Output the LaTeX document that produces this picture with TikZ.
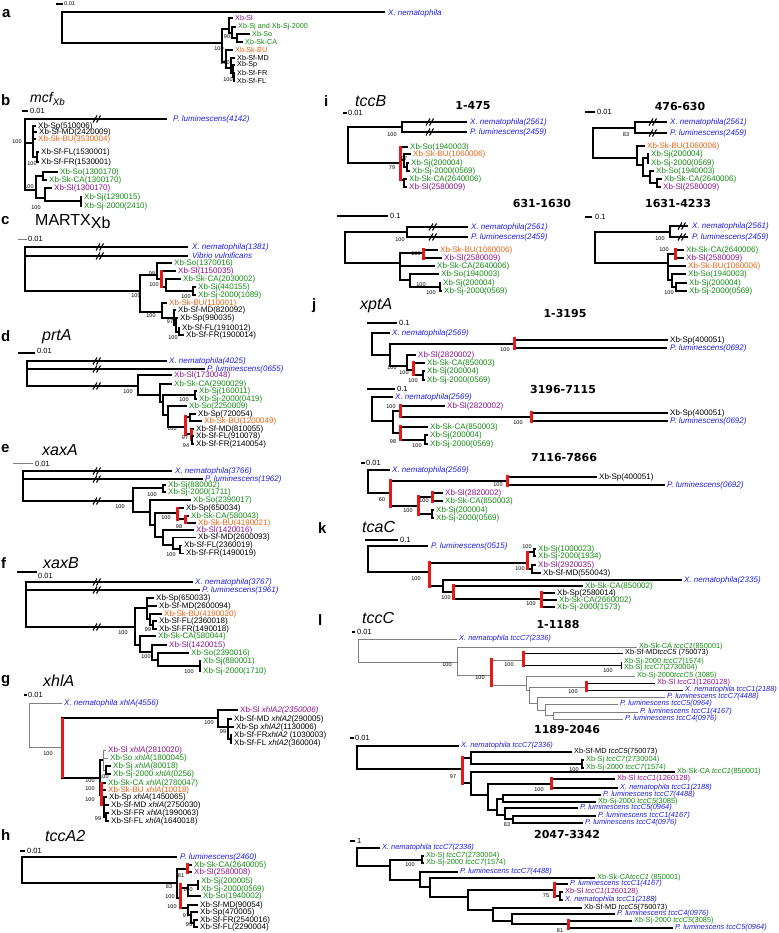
\documentclass[tikz,border=0pt]{standalone}
\usepackage{fontspec}
\setmainfont{Liberation Sans}
\newfontfamily\tfont{DejaVu Sans}
\definecolor{cg}{RGB}{20,140,20}
\definecolor{cp}{RGB}{140,20,140}
\definecolor{co}{RGB}{230,100,20}
\definecolor{cb}{RGB}{30,30,230}
\definecolor{cr}{RGB}{230,25,25}
\tikzset{
 br/.style={line width=1.6pt,draw=black},
 thin/.style={line width=0.8pt},
 gr/.style={line width=0.9pt,draw=gray},
 redbar/.style={line width=3pt,draw=cr},
 lb/.style={anchor=west,inner sep=0pt,font=\fontsize{8}{9}\selectfont},
 lbs/.style={anchor=west,inner sep=0pt,font=\fontsize{7.4}{8}\selectfont},
 lba/.style={anchor=west,inner sep=0pt,font=\fontsize{7.2}{8}\selectfont},
 bs/.style={inner sep=0pt,font=\fontsize{5.5}{6}\selectfont},
 plet/.style={anchor=west,inner sep=0pt,font=\fontsize{15}{15}\selectfont\bfseries},
 gtit/.style={anchor=west,inner sep=0pt,font=\fontsize{16}{16}\selectfont\itshape},
 rtit/.style={inner sep=0pt,font=\tfont\fontsize{11}{11}\selectfont\bfseries},
 sct/.style={anchor=west,inner sep=0pt,font=\fontsize{7.5}{8}\selectfont}
}
\newcommand\Lb[4]{\node[lb,text=#3] at (#1,#2) {#4};}
\newcommand\Lc[4]{\node[lbs,text=#3] at (#1,#2) {#4};}
\newcommand\La[4]{\node[lba,text=#3] at (#1,#2) {#4};}
\newcommand\Bk[6][]{\draw[br,#1] (#4,#3) -- (#2,#3) -- (#2,#5) -- (#6,#5);}
\newcommand\Bkk[8][]{\draw[br,#1] (#4,#3) -- (#2,#3) -- (#2,#7) -- (#8,#7) (#2,#5) -- (#6,#5);}
\newcommand\Rb[3]{\draw[redbar] (#1,#2) -- (#1,#3);}
\newcommand\Bs[3]{\node[bs] at (#1,#2) {#3};}
\newcommand\Brk[2]{\draw[line width=1.1pt] (#1-4,#2+3.5) -- (#1,#2-3.5) (#1-0.5,#2+3.5) -- (#1+3.5,#2-3.5);}
\begin{document}
\begin{tikzpicture}[x=1pt,y=-1pt]
\fill[white] (0,0) rectangle (778,933);
\useasboundingbox (0,0) rectangle (778,933);
% ===== a =====
\node[plet] at (2,14) {a};
\draw[br] (56,4) -- (63,4); \node[sct,font=\fontsize{5.5}{6}\selectfont] at (64,4) {0.01};
\Bk{62}{12}{385}{43}{222}
\Lb{388}{13}{cb}{\itshape X. nematophila}
\Bk{222}{29}{229}{62}{226}
\Bk{229}{18}{233}{33}{232}
\Bk{232}{27}{236}{38}{237}
\Bk{237}{34}{250}{42}{243}
\Bk{226}{50}{233}{68}{231}
\Bk{231}{58}{235}{73}{233}
\Bk{233}{65}{235}{77}{234}
\Bk{234}{73}{235}{81}{235}
\Bs{227}{37}{90}\Bs{219}{49}{100}\Bs{225}{63}{100}\Bs{228}{80}{100}
\La{235}{18}{cp}{Xb-Sl}
\La{238}{27}{cg}{Xb-Sj and Xb-Sj-2000}
\La{252}{34}{cg}{Xb-So}
\La{245}{42}{cg}{Xb-Sk-CA}
\La{235}{50}{co}{Xb-Sk-BU}
\La{237}{58}{black}{Xb-Sf-MD}
\La{237}{65}{black}{Xb-Sp}
\La{237}{73}{black}{Xb-Sf-FR}
\La{237}{81}{black}{Xb-Sf-FL}
% ===== b =====
\node[plet] at (1,100) {b};
\node[gtit,font=\fontsize{14}{14}\selectfont\itshape] at (30,99) {mcf\textsubscript{Xb}};
\draw[br] (22,111) -- (28,111); \node[sct] at (30,111) {0.01};
\Bkk{25}{119}{167}{143}{33}{190}{36}
\Brk{97}{119}
\Lb{173}{119}{cb}{\itshape P. luminescens(4142)}
\Bs{17}{142}{100}\Bs{29}{187}{100}
\draw[br] (36,126) -- (33,126) -- (33,157) -- (37,157) (33,132) -- (37,132) (33,139) -- (36,139);
\Bk{37}{152}{39}{162}{39}
\Bs{32}{164}{100}
\Lb{38}{126}{black}{Xb-Sp(510006)}
\Lb{39}{132.5}{black}{Xb-Sf-MD(2420009)}
\Lb{38}{139}{co}{Xb-Sk-BU(3530004)}
\Lb{41}{152}{black}{Xb-Sf-FL(1530001)}
\Lb{41}{162}{black}{Xb-Sf-FR(1530001)}
\Bk{36}{176}{43}{198}{45}
\Bk{43}{172}{58}{180}{47}
\Bk{45}{188}{52}{201}{81}
\Bk{81}{197}{82}{206}{82}
\Bs{36}{208}{100}
\Lb{60}{172}{cg}{Xb-So(1300170)}
\Lb{49}{180}{cg}{Xb-Sk-CA(1300170)}
\Lb{54}{188}{cp}{Xb-Sl(1300170)}
\Lb{84}{197}{cg}{Xb-Sj(1290015)}
\Lb{84}{206}{cg}{Xb-Sj-2000(2410)}
% ===== c =====
\node[plet] at (1,221) {c};
\node[gtit,font=\fontsize{16}{16}\selectfont] at (35,222) {MARTX\raisebox{-3pt}{Xb}};
\draw[gr] (18,239) -- (27,239); \node[sct] at (28,239) {0.01};
\Bkk{25}{247}{188}{256}{188}{291}{140}
\Brk{100}{247}\Brk{100}{256}
\Lb{192}{247}{cb}{\itshape X. nematophila(1381)}
\Lb{192}{256}{cb}{\itshape Vibrio vulnificans}
\Bs{136}{296}{100}
\Bk{140}{275}{157}{312}{162}
\Bk{157}{263}{172}{279}{161}
\Bs{152}{274}{99}
\Bk{161}{271}{176}{287}{166}\Rb{161}{270}{288}
\Bs{154}{285}{100}
\Bk{166}{279}{181}{291}{193}
\Bk{193}{287}{196}{295}{196}
\Bs{186}{297}{100}
\Bk{162}{303}{167}{318}{174}
\Bs{151}{316}{100}
\Bk{174}{310}{176}{325}{176}
\Bk{176}{318}{178}{332}{179}
\Bs{170}{322}{97}
\Bk{179}{328}{180}{335}{184}
\Bs{173}{338}{100}
\Lb{174}{263}{cg}{Xb-So(1370016)}
\Lb{178}{271}{cp}{Xb-Sl(1150035)}
\Lb{183}{279}{cg}{Xb-Sk-CA(2030002)}
\Lb{198}{287}{cg}{Xb-Sj(440155)}
\Lb{198}{295}{cg}{Xb-Sj-2000(1089)}
\Lb{169}{303}{co}{Xb-Sk-BU(110001)}
\Lb{178}{310}{black}{Xb-Sf-MD(820092)}
\Lb{180}{318}{black}{Xb-Sp(990035)}
\Lb{182}{328}{black}{Xb-Sf-FL(1910012)}
\Lb{186}{335}{black}{Xb-Sf-FR(1900014)}
% ===== d =====
\node[plet] at (1,336) {d};
\node[gtit] at (42,337) {prtA};
\draw[br] (18,353) -- (35,353); \node[sct] at (37,351) {0.01};
\Bkk{27}{361}{167}{369}{205}{386}{138}
\Brk{97}{361}\Brk{97}{369}\Brk{97}{386}
\Lb{169}{361}{cb}{\itshape X. nematophila(4025)}
\Lb{207}{369}{cb}{\itshape P. luminescens(0655)}
\Bs{128}{392}{100}
\Bk{138}{375}{172}{395}{160}
\Bk{160}{384}{172}{402}{163}
\Bk{163}{395}{195}{415}{168}
\Bk{195}{391}{197}{399}{197}\Bs{184}{400}{100}
\Bk{168}{406}{187}{427}{185}
\Bk{185}{417}{190}{434}{191}\Rb{185}{415}{436}\Bs{172}{429}{100}
\Bk{190}{414}{196}{421}{202}
\Bk{191}{429}{194}{440}{192}\Rb{191}{429}{441}\Bs{185}{438}{97}
\Bk{192}{436}{194}{444}{194}\Bs{186}{446}{94}
\Lb{174}{375}{cp}{Xb-Sl(1730048)}
\Lb{174}{384}{cg}{Xb-Sk-CA(2900029)}
\Lb{199}{391}{cg}{Xb-Sj(160011)}
\Lb{199}{399}{cg}{Xb-Sj-2000(0419)}
\Lb{189}{406}{cg}{Xb-So(2250009)}
\Lb{198}{414}{black}{Xb-Sp(720054)}
\Lb{204}{421}{co}{Xb-Sk-BU(1200049)}
\Lb{196}{429}{black}{Xb-Sf-MD(810055)}
\Lb{196}{436}{black}{Xb-Sf-FL(910078)}
\Lb{196}{444}{black}{Xb-Sf-FR(2140054)}
% ===== e =====
\node[plet] at (1,449) {e};
\node[gtit] at (42,450) {xaxA};
\draw[gr] (13,463) -- (33,463); \node[sct] at (35,464) {0.01};
\Bkk{23}{471}{172}{479}{203}{501}{133}
\Brk{97}{471}\Brk{97}{479}\Brk{97}{501}
\Lb{175}{471}{cb}{\itshape X. nematophila(3766)}
\Lb{205}{479}{cb}{\itshape P. luminescens(1962)}
\Bs{120}{507}{100}
\Bk{133}{488}{163}{512}{150}
\Bk{163}{485}{166}{492}{166}\Bs{152}{495}{100}
\Bk{150}{500}{191}{525}{155}
\Bk{155}{513}{177}{537}{163}
\Bk{177}{508}{184}{519}{185}\Rb{177}{507}{521}\Bs{166}{518}{100}
\Bk{185}{516}{189}{523}{196}\Rb{185}{515}{524}\Bs{179}{527}{98}
\Bk{163}{530}{194}{545}{173}
\Bk{173}{537.5}{196}{549}{180}
\Bk{180}{545.5}{182}{553.5}{184}\Bs{171}{555}{100}
\Lb{168}{485}{cg}{Xb-Sj(880002)}
\Lb{168}{492}{cg}{Xb-Sj-2000(1711)}
\Lb{193}{500}{cg}{Xb-So(2390017)}
\Lb{186}{508}{black}{Xb-Sp(650034)}
\Lb{191}{516}{cg}{Xb-Sk-CA(580043)}
\Lb{198}{523}{co}{Xb-Sk-BU(4190021)}
\Lb{196}{530}{cp}{Xb-Sl(1420016)}
\Lb{198}{537.5}{black}{Xb-Sf-MD(2600093)}
\Lb{184}{545.5}{black}{Xb-Sf-FL(2360019)}
\Lb{186}{553.5}{black}{Xb-Sf-FR(1490019)}
% ===== f =====
\node[plet] at (1,563) {f};
\node[gtit] at (43,563) {xaxB};
\draw[br] (17,572) -- (37,572); \node[sct] at (38,575.5) {0.01};
\Bkk{26}{582}{193}{590}{200}{627}{135}
\Brk{97}{582}\Brk{97}{590}\Brk{97}{627}
\Lb{195}{582}{cb}{\itshape X. nematophila(3767)}
\Lb{202}{590}{cb}{\itshape P. luminescens(1961)}
\Bs{123}{633}{100}
\Bk{135}{608}{147}{645}{140}
\Bkk{147}{598}{154}{606}{157}{619}{150}
\Bk{150}{614}{162}{625}{153}
\Bk{153}{621}{157}{629}{157}\Bs{148}{630}{99}
\Bk{140}{636}{156}{652}{152}
\Bk{152}{645}{167}{660}{158}
\Bk{158}{653}{189}{666}{200}\Bs{146}{657}{100}
\Bk{200}{661}{201}{671}{201}\Bs{189}{672}{100}
\Lb{156}{598}{black}{Xb-Sp(650033)}
\Lb{159}{606}{black}{Xb-Sf-MD(2600094)}
\Lb{164}{614}{co}{Xb-Sk-BU(4190020)}
\Lb{159}{621}{black}{Xb-Sf-FL(2360018)}
\Lb{159}{629}{black}{Xb-Sf-FR(1490018)}
\Lb{158}{636}{cg}{Xb-Sk-CA(580044)}
\Lb{169}{645}{cp}{Xb-Sl(1420015)}
\Lb{191}{653}{cg}{Xb-So(2390016)}
\Lb{203}{661}{cg}{Xb-Sj(880001)}
\Lb{203}{671}{cg}{Xb-Sj-2000(1710)}
% ===== g =====
\node[plet] at (1,681) {g};
\node[gtit] at (43,681) {xhlA};
\draw[br] (24,695) -- (27,695); \node[sct] at (28,695) {0.01};
\Bk[gr]{29}{703}{62}{747}{62}
\Lb{64}{703}{cb}{\itshape X. nematophila xhlA(4556)}
\Bs{48}{754}{100}
\Bk{62}{718}{218}{778}{100}\Rb{62}{718}{778}
\Bs{209}{723}{100}
\Bk{218}{710}{238}{727}{228}
\Bkk{228}{719}{232}{727}{234}{739}{231}
\Bk{231}{735}{232}{743}{232}
\Bs{223}{732}{99}
\Lb{240}{710}{cp}{Xb-Sl \itshape xhlA2(2350006)}
\Lb{234}{719}{black}{Xb-Sf-MD \textit{xhlA2}(290005)}
\Lb{236}{727}{black}{Xb-Sp \textit{xhlA2}(1130006)}
\Lb{234}{735}{black}{Xb-Sf-FR\textit{xhlA2} (1030003)}
\Lb{234}{743}{black}{Xb-Sf-FL \textit{xhlA2}(360004)}
\Bk{100}{760}{103}{795}{101}
\Bs{90}{781}{100}
\Bkk[gr]{103}{750}{106}{758}{108}{770}{106}
\Bk{106}{766}{111}{774}{111}\Bs{104}{777}{100}
\Bkk{101}{783}{106}{790}{106}{805}{104}\Rb{101}{782}{806}
\Bs{90}{789}{100}\Bs{90}{800}{100}
\Bkk{104}{797}{107}{805}{109}{817}{106}
\Bk{106}{813}{109}{821}{109}\Bs{98}{819}{99}
\Lb{108}{750}{cp}{Xb-Sl \textit{xhlA}(2810020)}
\Lb{110}{758}{cg}{Xb-So \textit{xhlA}(1800045)}
\Lb{113}{766}{cg}{Xb-Sj \textit{xhlA}(80018)}
\Lb{113}{774}{cg}{Xb-Sj-2000 \textit{xhlA}(0256)}
\Lb{108}{783}{cg}{Xb-Sk-CA \textit{xhlA}(2780047)}
\Lb{108}{790}{co}{Xb-Sk-BU \textit{xhlA}(10018)}
\Lb{109}{797}{black}{Xb-Sp \textit{xhlA}(1450065)}
\Lb{111}{805}{black}{Xb-Sf-MD \textit{xhlA}(2750030)}
\Lb{111}{813}{black}{Xb-Sf-FR \textit{xhlA}(1990063)}
\Lb{111}{821}{black}{Xb-Sf-FL \textit{xhlA}(1640018)}
% ===== h =====
\node[plet] at (1,835) {h};
\node[gtit] at (45,836) {tccA2};
\draw[br] (20,851) -- (25,851); \node[sct] at (27,851) {0.01};
\Bk{22}{857}{177}{883}{177}
\Lb{180}{857}{cb}{\itshape P. luminescens(2460)}
\Bs{169}{887}{83}
\Bk{177}{869}{187}{898}{180}
\Bk{187}{865}{192}{872}{192}\Rb{187}{863}{874}\Bs{181}{876}{81}
\Bk{180}{888}{188}{908}{188}\Rb{180}{883}{909}\Bs{170}{897}{100}\Bs{172}{907}{100}
\Bk{188}{885}{198}{896}{201}
\Bk{198}{881}{199}{889}{199}\Bs{188}{890}{100}
\Bk{188}{905}{198}{915}{191}
\Bk{191}{912}{198}{923}{194}\Bs{186}{916}{97}
\Bk{194}{920}{198}{927}{198}\Bs{189}{925}{95}
\Lb{194}{865}{cg}{Xb-Sk-CA(2640005)}
\Lb{194}{872}{cp}{Xb-Sl(2580008)}
\Lb{201}{881}{cg}{Xb-Sj(200005)}
\Lb{201}{889}{cg}{Xb-Sj-2000(0569)}
\Lb{203}{896}{cg}{Xb-So(1940002)}
\Lb{200}{905}{black}{Xb-Sf-MD(90054)}
\Lb{200}{912}{black}{Xb-Sp(470005)}
\Lb{200}{920}{black}{Xb-Sf-FR(2540016)}
\Lb{200}{927}{black}{Xb-Sf-FL(2290004)}
% ===== i =====
\node[plet] at (324,101) {i};
\node[gtit] at (355,101) {tccB};
\node[rtit] at (473,106) {1-475};
\node[rtit] at (680,106) {476-630};
\node[rtit] at (542,203) {631-1630};
\node[rtit] at (678,203) {1631-4233};
% i1
\draw[br] (343,113) -- (347,113); \node[sct] at (348,113) {0.01};
\Bk{348}{127}{402}{163}{400}
\Bk{402}{122}{467}{132}{467}\Brk{430}{122}\Brk{430}{132}\Bs{392}{135}{100}
\Lb{470}{122}{cb}{\itshape X. nematophila(2561)}
\Lb{470}{132}{cb}{\itshape P. luminescens(2459)}
\Bkk{400}{147}{408}{160}{404}{180}{404}\Rb{400}{146}{181}\Bs{392}{168}{79}
\Bk{404}{154}{411}{167}{407}\Bs{404}{159}{97}
\Bk{407}{163}{409}{171}{410}
\Bk{404}{179}{407}{187}{407}
\Lb{410}{147}{cg}{Xb-So(1940003)}
\Lb{413}{154}{co}{Xb-Sk-BU(1060006)}
\Lb{411}{163}{cg}{Xb-Sj(200004)}
\Lb{412}{171}{cg}{Xb-Sj-2000(0569)}
\Lb{409}{179}{cg}{Xb-Sk-CA(2640006)}
\Lb{409}{187}{cp}{Xb-Sl(2580009)}
% i2
\draw[br] (585,112) -- (595,112); \node[sct] at (597,112) {0.01};
\Bk{593}{128}{635}{158}{637}
\Bk{635}{122}{667}{133}{667}\Brk{653}{122}\Brk{653}{133}\Bs{626}{135}{83}
\Lb{670}{122}{cb}{\itshape X. nematophila(2561)}
\Lb{670}{133}{cb}{\itshape P. luminescens(2459)}
\Bk{637}{146}{645}{165}{643}
\Bk{643}{158}{648}{176}{650}
\Bk{648}{154}{649}{163}{649}
\Bk{650}{171}{654}{183}{657}
\Bk{657}{179}{662}{187}{661}
\Lb{647}{146}{co}{Xb-Sk-BU(1060006)}
\Lb{651}{154}{cg}{Xb-Sj(200004)}
\Lb{651}{163}{cg}{Xb-Sj-2000(0569)}
\Lb{656}{171}{cg}{Xb-So(1940003)}
\Lb{664}{179}{cg}{Xb-Sk-CA(2640006)}
\Lb{663}{187}{cp}{Xb-Sl(2580009)}
% i3
\draw[br] (337,216) -- (388,216); \node[sct] at (390,216) {0.1};
\Bk{345}{232}{407}{263}{400}
\Bk{407}{227}{468}{237}{468}\Brk{433}{227}\Brk{433}{237}\Bs{400}{240}{100}
\Lb{471}{227}{cb}{\itshape X. nematophila(2561)}
\Lb{471}{237}{cb}{\itshape P. luminescens(2459)}
\Bkk{400}{253}{423}{266}{435}{280}{410}
\Bk{423}{250}{438}{258}{442}\Rb{423}{248}{260}\Bs{416}{254}{100}
\Bk{410}{274}{439}{287}{440}\Bs{421}{285}{100}
\Bk{440}{283}{441}{291}{442}\Bs{431}{293}{100}
\Lb{440}{250}{co}{Xb-Sk-BU(1060006)}
\Lb{444}{258}{cp}{Xb-Sl(2580009)}
\Lb{437}{266}{cg}{Xb-Sk-CA(2640006)}
\Lb{441}{274}{cg}{Xb-So(1940003)}
\Lb{443}{283}{cg}{Xb-Sj(200004)}
\Lb{444}{291}{cg}{Xb-Sj-2000(0569)}
% i4
\draw[br] (585,217) -- (592,217); \node[sct] at (595,217) {0.1};
\Bk{595}{232}{670}{263}{668}
\Bk{670}{226}{688}{237}{688}\Brk{682}{226}\Brk{682}{237}\Bs{660}{239}{100}
\Lb{692}{226}{cb}{\itshape X. nematophila(2561)}
\Lb{692}{237}{cb}{\itshape P. luminescens(2459)}
\Bkk{668}{254}{675}{266}{686}{280}{672}
\Bk{675}{250}{684}{258}{684}\Rb{675}{248}{260}\Bs{664}{250}{100}
\Bk{672}{274}{686}{287}{676}
\Bk{676}{283}{687}{291}{687}\Bs{669}{293}{100}
\Lb{686}{250}{cg}{Xb-Sk-CA(2640006)}
\Lb{686}{258}{cp}{Xb-Sl(2580009)}
\Lb{688}{266}{co}{Xb-Sk-BU(1060006)}
\Lb{688}{274}{cg}{Xb-So(1940003)}
\Lb{689}{283}{cg}{Xb-Sj(200004)}
\Lb{689}{291}{cg}{Xb-Sj-2000(0569)}
% ===== j =====
\node[plet] at (312,306) {j};
\node[gtit] at (360,306) {xptA};
\node[rtit] at (565,313) {1-3195};
\node[rtit] at (563,389) {3196-7115};
\node[rtit] at (564,457) {7116-7866};
% j1
\draw[br] (367,323) -- (397,323); \node[sct] at (399,323) {0.1};
\Bk{372}{333}{390}{355}{390}
\Lb{392}{333}{cb}{\itshape X. nematophila(2569)}
\Bk{390}{344}{514}{366}{407}\Bs{392}{368}{100}
\Bk{514}{340}{668}{348}{667}\Rb{514}{337}{350}\Bs{505}{350}{100}
\Lb{670}{340}{black}{Xb-Sp(400051)}
\Lb{670}{348}{cb}{\itshape P. luminescens(0692)}
\Bk{407}{355}{416}{370}{413}
\Bk{413}{363}{425}{375}{423}\Rb{413}{361}{376}\Bs{404}{373}{100}
\Bk{423}{371}{425}{380}{425}\Bs{413}{381}{100}
\Lb{418}{355}{cp}{Xb-Sl(2820002)}
\Lb{427}{363}{cg}{Xb-Sk-CA(850003)}
\Lb{427}{371}{cg}{Xb-Sj(200004)}
\Lb{427}{380}{cg}{Xb-Sj-2000(0569)}
% j2
\draw[br] (367,389) -- (395,389); \node[sct] at (397,389) {0.1};
\Bk{372}{397}{393}{421}{393}
\Lb{395}{397}{cb}{\itshape X. nematophila(2569)}
\Bk{393}{411}{400}{433}{400}
\Bk{400}{406}{445}{417}{531}\Rb{400}{404}{418}\Bs{391}{407}{100}
\Bk{531}{413}{668}{421}{668}\Rb{531}{411}{423}\Bs{518}{423}{100}
\Bk{400}{427}{428}{440}{425}\Rb{400}{425}{441}\Bs{393}{442}{98}
\Bk{425}{435}{428}{444}{428}\Bs{417}{446}{100}
\Lb{447}{406}{cp}{Xb-Sl(2820002)}
\Lb{670}{413}{black}{Xb-Sp(400051)}
\Lb{670}{421}{cb}{\itshape P. luminescens(0692)}
\Lb{430}{427}{cg}{Xb-Sk-CA(850003)}
\Lb{430}{435}{cg}{Xb-Sj(200004)}
\Lb{430}{444}{cg}{Xb-Sj-2000(0569)}
% j3
\draw[br] (361,463) -- (365,463); \node[sct] at (366,463) {0.01};
\Bk{368}{470}{390}{493}{390}
\Lb{392}{470}{cb}{\itshape X. nematophila(2569)}
\Bk{390}{481}{507}{506}{418}\Rb{390}{479}{508}\Bs{382}{500}{60}
\Bk{507}{477}{597}{485}{665}\Rb{507}{475}{487}\Bs{498}{485}{100}
\Bk{418}{497}{432}{514}{432}\Rb{418}{495}{516}\Bs{408}{511}{100}
\Bk{432}{493}{443}{501}{443}\Rb{432}{491}{503}\Bs{424}{501}{100}
\Bk{432}{510}{434}{518}{434}
\Lb{599}{477}{black}{Xb-Sp(400051)}
\Lb{667}{485}{cb}{\itshape P. luminescens(0692)}
\Lb{445}{493}{cp}{Xb-Sl(2820002)}
\Lb{445}{501}{cg}{Xb-Sk-CA(850003)}
\Lb{436}{510}{cg}{Xb-Sj(200004)}
\Lb{436}{518}{cg}{Xb-Sj-2000(0569)}
% ===== k =====
\node[plet] at (318,528) {k};
\node[gtit] at (362,527) {tcaC};
\draw[br] (365,540) -- (398,540); \node[sct] at (400,540) {0.1};
\Bk{368}{546}{428}{572}{429}
\Lb{431}{546}{cb}{\itshape P. luminescens(0515)}
\Bk{429}{563}{527}{586}{443}\Rb{429}{561}{588}\Bs{416}{579}{100}
\Bk{527}{552}{534}{569}{532}\Rb{527}{551}{570}\Bs{520}{569}{100}\Bs{527}{547}{100}
\Bk{534}{549}{536}{556}{536}
\Bk{532}{565}{536}{573}{541}
\Bk{443}{580}{682}{592}{453}
\Bk{453}{586}{583}{599}{541}\Rb{453}{584}{600}\Bs{446}{598}{100}
\Bkk{541}{593}{555}{600}{557}{607}{555}\Rb{541}{591}{608}\Bs{531}{604}{100}
\Lb{538}{549}{cg}{Xb-Sj(1000023)}
\Lb{538}{556}{cg}{Xb-Sj-2000(1934)}
\Lb{538}{565}{cp}{Xb-Sl(2920035)}
\Lb{543}{573}{black}{Xb-Sf-MD(550043)}
\Lb{684}{580}{cb}{\itshape X. nematophila(2335)}
\Lb{585}{586}{cg}{Xb-Sk-CA(850002)}
\Lb{557}{593}{black}{Xb-Sp(2580014)}
\Lb{559}{600}{cg}{Xb-Sk-CA(2660002)}
\Lb{557}{607}{cg}{Xb-Sj-2000(1573)}
% ===== l =====
\node[plet] at (318,620) {l};
\node[gtit] at (362,618) {tccC};
\node[rtit] at (558,624) {1-1188};
\node[rtit] at (567,729) {1189-2046};
\node[rtit] at (567,834) {2047-3342};
% l1
\draw[br] (352,632) -- (355,632); \node[sct] at (357,632) {0.01};
\Bk[gr]{358}{639}{457}{662}{457}
\Lc{459}{639}{cb}{\itshape X. nematophila tccC7(2336)}
\Bs{447}{665}{100}
\Bk[gr]{457}{647}{637}{675}{491}
\Bk[gr]{491}{660}{523}{685}{526}\Rb{491}{658}{687}\Bs{480}{678}{100}
\Bk[thin]{523}{653}{623}{665}{621}\Rb{523}{651}{667}\Bs{509}{665}{100}
\Bk[thin]{621}{662}{622}{668}{622}\Bs{608}{671}{100}
\Bk[gr]{526}{676}{635}{690}{529}
\Bk[gr]{529}{687}{586}{703}{537}
\Bk[thin]{586}{683}{655}{690}{683}\Rb{586}{681}{692}\Bs{573}{692}{100}
\Bk[gr]{537}{697}{665}{710}{545}
\Bk[gr]{545}{704}{618}{715}{553}
\Bk[gr]{553}{712}{638}{719}{623}
\Lc{639}{647}{cg}{Xb-Sk-CA \textit{tccC1}(850001)}
\Lc{625}{653}{black}{Xb-Sf-MD\textit{tccC5} (750073)}
\Lc{624}{662}{cg}{Xb-Sj-2000 \textit{tccC7}(1574)}
\Lc{624}{668}{cg}{Xb-Sj \textit{tccC7}(2730004)}
\Lc{637}{676}{cg}{Xb-Sj-2000\textit{tccC5} (3085)}
\Lc{657}{683}{cp}{Xb-Sl \textit{tccC1}(1260128)}
\Lc{685}{690}{cb}{\itshape X. nematophila tccC1(2188)}
\Lc{667}{697}{cb}{\itshape P. luminescens tccC7(4488)}
\Lc{620}{704}{cb}{\itshape P. luminescens tccC5(0964)}
\Lc{640}{712}{cb}{\itshape P. luminescens tccC1(4167)}
\Lc{625}{719}{cb}{\itshape P. luminescens tccC4(0976)}
% l2
\draw[br] (350,738) -- (354,738); \node[sct] at (355,738) {0.01};
\Bk{357}{746}{459}{769}{462}
\Lc{461}{746}{cb}{\itshape X. nematophila tccC7(2336)}
\Bk{462}{758}{471}{783}{471}\Rb{462}{756}{785}\Bs{453}{777}{97}
\Bk{471}{752}{572}{764}{582}
\Bk{582}{760}{584}{768}{584}\Bs{574}{770}{100}
\Bk{471}{772}{675}{795}{488}
\Bk{488}{784}{551}{810}{497}
\Bk{551}{779}{615}{788}{618}\Rb{551}{777}{790}\Bs{539}{790}{100}
\Bk{497}{799}{503}{815}{505}
\Bk{503}{795}{601}{802}{596}
\Bk{505}{808}{578}{819}{513}
\Bk{513}{816}{596}{823}{583}\Bs{507}{825}{83}
\Lc{574}{752}{black}{Xb-Sf-MD \textit{tccC5}(750073)}
\Lc{586}{760}{cg}{Xb-Sj \textit{tccC7}(2730004)}
\Lc{586}{768}{cg}{Xb-Sj-2000 \textit{tccC7}(1574)}
\Lc{677}{772}{cg}{Xb-Sk-CA \textit{tccC1}(850001)}
\Lc{617}{779}{cp}{Xb-Sl \textit{tccC1}(1260128)}
\Lc{620}{788}{cb}{\itshape X. nematophila tccC1(2188)}
\Lc{603}{795}{cb}{\itshape P. luminescens tccC7(4488)}
\Lc{598}{802}{cg}{Xb-Sj-2000 \textit{tccC5}(3085)}
\Lc{580}{808}{cb}{\itshape P. luminescens tccC5(0964)}
\Lc{598}{816}{cb}{\itshape P. luminescens tccC1(4167)}
\Lc{585}{823}{cb}{\itshape P. luminescens tccC4(0976)}
% l3
\draw[br] (350,841) -- (355,841); \node[sct] at (357,841) {1};
\Bk{357}{848}{380}{866}{390}
\Lc{382}{848}{cb}{\itshape X. nematophila tccC7(2336)}
\Bk{390}{860}{422}{880}{420}
\Bk{422}{856}{424}{863}{424}\Bs{410}{865}{100}
\Bk{420}{872}{458}{887}{430}
\Bk{430}{878}{595}{897}{468}
\Bk{468}{890}{554}{910}{493}
\Bk{554}{884}{568}{896}{560}\Rb{554}{882}{898}\Bs{546}{896}{75}
\Bk{560}{892}{563}{900}{563}
\Bk{493}{908}{582}{921}{512}
\Bk{512}{914}{615}{924}{568}
\Bk{568}{921}{632}{928}{673}\Rb{568}{919}{930}\Bs{560}{931}{81}
\Lc{426}{856}{cg}{Xb-Sj \textit{tccC7}(2730004)}
\Lc{426}{863}{cg}{Xb-Sj-2000 \textit{tccC7}(1574)}
\Lc{460}{872}{cb}{\itshape P. luminescens tccC7(4488)}
\Lc{597}{878}{cg}{Xb-Sk-CA\textit{tccC1} (850001)}
\Lc{570}{884}{cb}{\itshape P. luminescens tccC1(4167)}
\Lc{565}{892}{cp}{Xb-Sl \textit{tccC1}(1260128)}
\Lc{565}{900}{cb}{\itshape X. nematophila tccC1(2188)}
\Lc{584}{908}{black}{Xb-Sf-MD \textit{tccC5}(750073)}
\Lc{617}{914}{cb}{\itshape P. luminescens tccC4(0976)}
\Lc{634}{921}{cg}{Xb-Sj-2000 \textit{tccC5}(3085)}
\Lc{675}{928}{cb}{\itshape P. luminescens tccC5(0964)}
\end{tikzpicture}
\end{document}
